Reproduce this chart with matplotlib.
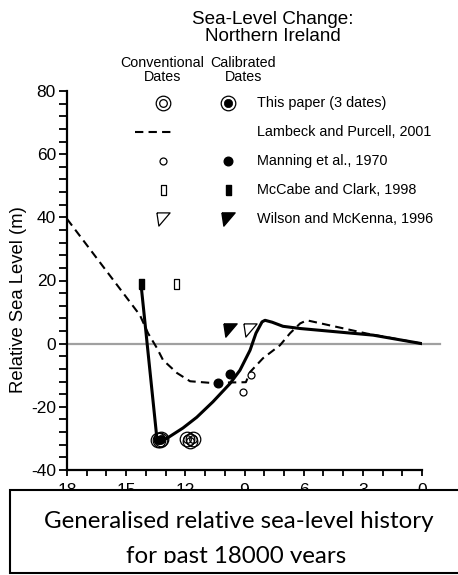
import numpy as np
import matplotlib
matplotlib.use("Agg")
import matplotlib.pyplot as plt
from matplotlib.ticker import MultipleLocator
from matplotlib.patches import Rectangle
from matplotlib.transforms import Bbox, TransformedBbox

# age in ka BP, relative sea level in m
solid_ka = [14.25, 13.45, 13.33, 12.94, 12.12, 11.42, 10.60, 9.73, 9.23, 8.72, 8.42, 8.11, 7.96, 7.60, 7.05, 6.18, 2.48, 0.0]
solid_m = [19.0, -29.5, -30.5, -30.0, -26.7, -23.3, -18.4, -12.6, -8.4, -2.1, 3.3, 6.9, 7.4, 6.8, 5.5, 4.8, 2.7, 0.0]

dashed_ka = [18.0, 14.30, 13.89, 13.44, 13.13, 12.42, 11.76, 10.75, 8.93, 8.72, 8.06, 7.20, 6.69, 6.18, 5.84, 2.80, 0.0]
dashed_m = [39.5, 9.0, 3.3, -1.4, -5.2, -9.3, -11.9, -12.4, -12.2, -9.0, -4.6, -0.5, 3.3, 6.4, 7.4, 3.2, 0.0]

paper_cal_ka = [13.40, 13.30, 13.22]
paper_cal_m = [-30.5, -30.5, -30.3]
paper_conv_ka = [11.90, 11.62, 11.76]
paper_conv_m = [-30.3, -30.3, -30.9]

manning_cal_ka = [10.33, 9.73]
manning_cal_m = [-12.6, -9.7]
manning_conv_ka = [8.67, 9.09]
manning_conv_m = [-10.0, -15.3]

mccabe_cal_ka = [14.25]
mccabe_cal_m = [19.0]
mccabe_conv_ka = [12.47]
mccabe_conv_m = [19.0]

wilson_cal_ka = [9.73]
wilson_cal_m = [4.3]
wilson_conv_ka = [8.72]
wilson_conv_m = [4.3]

legend_labels = ["This paper (3 dates)", "Lambeck and Purcell, 2001",
                 "Manning et al., 1970", "McCabe and Clark, 1998",
                 "Wilson and McKenna, 1996"]

plt.rcParams["font.family"] = ["Liberation Sans", "DejaVu Sans"]
plt.rcParams["axes.unicode_minus"] = False

RECT = [(-0.5, -1), (0.5, -1), (0.5, 1), (-0.5, 1), (-0.5, -1)]
TRI = [(-1, 1), (1, 1), (-0.7, -1), (-1, 1)]


def paper_conv(x, y, tr):
    ax.plot(x, y, "o", ms=10.5, mfc="none", mec="black", mew=0.9, transform=tr, clip_on=False, zorder=5)
    ax.plot(x, y, "o", ms=5.5, mfc="none", mec="black", mew=0.9, transform=tr, clip_on=False, zorder=5)


def paper_cal(x, y, tr):
    ax.plot(x, y, "o", ms=10.5, mfc="none", mec="black", mew=0.9, transform=tr, clip_on=False, zorder=5)
    ax.plot(x, y, "o", ms=6, mfc="black", mec="black", mew=0.5, transform=tr, clip_on=False, zorder=5)


def manning_conv(x, y, tr):
    ax.plot(x, y, "o", ms=5, mfc="white", mec="black", mew=0.9, transform=tr, clip_on=False, zorder=5)


def manning_cal(x, y, tr):
    ax.plot(x, y, "o", ms=6.2, mfc="black", mec="black", transform=tr, clip_on=False, zorder=5)


def mccabe_conv(x, y, tr):
    ax.plot(x, y, marker=RECT, ms=7.2, mfc="white", mec="black", mew=0.9, ls="none", transform=tr, clip_on=False, zorder=5)


def mccabe_cal(x, y, tr):
    ax.plot(x, y, marker=RECT, ms=7.2, mfc="black", mec="black", ls="none", transform=tr, clip_on=False, zorder=5)


def wilson_conv(x, y, tr):
    ax.plot(x, y, marker=TRI, ms=9.5, mfc="white", mec="black", mew=0.9, ls="none", transform=tr, clip_on=False, zorder=5)


def wilson_cal(x, y, tr):
    ax.plot(x, y, marker=TRI, ms=9.5, mfc="black", mec="black", ls="none", transform=tr, clip_on=False, zorder=5)


fig = plt.figure(figsize=(4.58, 5.75), dpi=100)
ax = fig.add_axes([67 / 458, 1 - 470 / 575, 355 / 458, 379 / 575])

ax.set_xlim(18, 0)
ax.set_ylim(-40, 80)
for s in ["top", "right"]:
    ax.spines[s].set_visible(False)
for s in ["left", "bottom"]:
    ax.spines[s].set_linewidth(1.6)

ax.xaxis.set_major_locator(MultipleLocator(3))
ax.xaxis.set_minor_locator(MultipleLocator(1))
ax.yaxis.set_major_locator(MultipleLocator(20))
ax.yaxis.set_minor_locator(MultipleLocator(4))
ax.tick_params(axis="y", which="both", direction="out", length=6, width=1.3, labelsize=12.5, pad=2)
ax.tick_params(axis="x", which="both", direction="out", length=4, width=1.3, labelsize=12.5, pad=5.5)

ax.set_ylabel("Relative Sea Level (m)", fontsize=13.3)
ax.yaxis.set_label_coords(-0.112, 0.449)

ax.axhline(0, xmin=0, xmax=1.05, color="#a0a0a0", lw=1.6, clip_on=False, zorder=1)
ax.plot(dashed_ka, dashed_m, color="black", lw=1.5, ls=(0, (4, 2.5)), zorder=2)
ax.plot(solid_ka, solid_m, color="black", lw=2.2, zorder=3)

dt = ax.transData
paper_conv(paper_conv_ka, paper_conv_m, dt)
paper_cal(paper_cal_ka, paper_cal_m, dt)
manning_conv(manning_conv_ka, manning_conv_m, dt)
manning_cal(manning_cal_ka, manning_cal_m, dt)
mccabe_conv(mccabe_conv_ka, mccabe_conv_m, dt)
mccabe_cal(mccabe_cal_ka, mccabe_cal_m, dt)
wilson_conv(wilson_conv_ka, wilson_conv_m, dt)
wilson_cal(wilson_cal_ka, wilson_cal_m, dt)

# legend block drawn by hand (two marker columns)
at = ax.transAxes
col_conv, col_cal, col_txt = 0.270, 0.454, 0.535
row0, drow = 0.968, 0.0765
rows = [row0 - i * drow for i in range(len(legend_labels))]
paper_conv([col_conv], [rows[0]], at)
paper_cal([col_cal], [rows[0]], at)
ax.plot([0.192, 0.299], [rows[1], rows[1]], color="black", lw=1.5, ls=(0, (4, 2.5)),
        transform=at, clip_on=False)
manning_conv([col_conv], [rows[2]], at)
manning_cal([col_cal], [rows[2]], at)
mccabe_conv([col_conv], [rows[3]], at)
mccabe_cal([col_cal], [rows[3]], at)
wilson_conv([col_conv], [rows[4]], at)
wilson_cal([col_cal], [rows[4]], at)
for y, lab in zip(rows, legend_labels):
    ax.text(col_txt, y, lab, transform=at, fontsize=10.4, va="center", ha="left")

ax.text(0.268, 1.055, "Conventional\nDates", transform=at, fontsize=10.3, ha="center", va="center", linespacing=0.95)
ax.text(0.496, 1.055, "Calibrated\nDates", transform=at, fontsize=10.3, ha="center", va="center", linespacing=0.95)

fig.text(273 / 458, 1 - 28 / 575, "Sea-Level Change:\nNorthern Ireland", fontsize=13.6,
         ha="center", va="center", linespacing=0.95)

# caption box
fig.add_artist(Rectangle((10 / 458, 1 - 573 / 575), 1.0, 83 / 575, transform=fig.transFigure,
                         facecolor="white", edgecolor="black", lw=1.5, zorder=10))
fig.text(0.522, 1 - 528 / 575, "Generalised relative sea-level history", family=["Lato", "DejaVu Sans"],
         fontsize=17.4, ha="center", va="baseline", zorder=11)
t2 = fig.text(0.515, 1 - 563 / 575, "for past 18000 years", family=["Lato", "DejaVu Sans"],
              fontsize=17.4, ha="center", va="baseline", zorder=11)
t2.set_clip_box(TransformedBbox(Bbox([[0, 1 - 563 / 575], [1, 1]]), fig.transFigure))
t2.set_clip_on(True)

fig.savefig("out.png", dpi=100)
